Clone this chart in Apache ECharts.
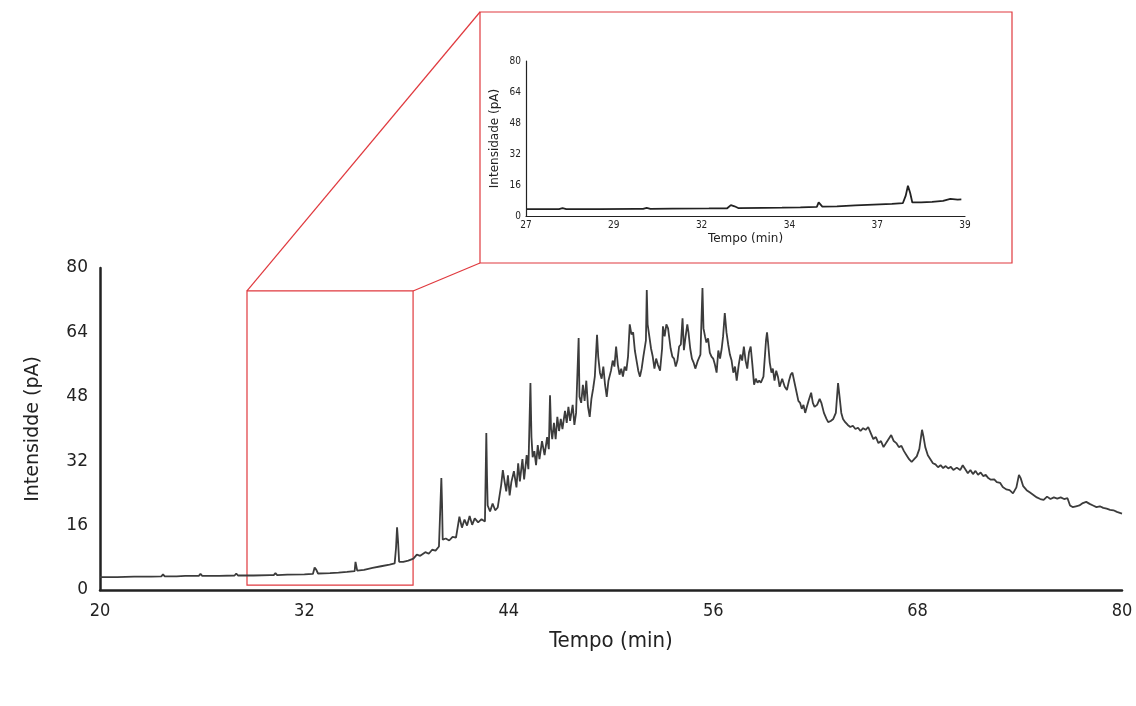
<!DOCTYPE html>
<html>
<head>
<meta charset="utf-8">
<script src="https://cdn.jsdelivr.net/npm/echarts@6/dist/echarts.min.js"></script>
<style>
html,body{margin:0;padding:0;background:#fff;}
#chart{width:1136px;height:706px;}
</style>
</head>
<body>
<div id="chart"></div>
<script>
// ---- Data (time in min, intensity in pA) ----
const segBaseline = [[20,3.2],[21,3.2],[22,3.3],[23,3.3],[23.6,3.4],[23.7,3.9],[23.8,3.4],[24.5,3.4],[25,3.5],[25.8,3.5],[25.9,4.0],[26,3.5],[27,3.5],[27.9,3.6],[28,4.1],[28.1,3.6],[29,3.6],[30,3.7],[30.2,3.7],[30.3,4.2],[30.4,3.7],[31,3.8],[32,3.9],[32.5,4.0],[32.6,5.6],[32.7,5.0],[32.8,4.1],[33.5,4.2],[34,4.3],[34.5,4.5],[34.95,4.7],[35.0,7.0],[35.05,6.6],[35.1,4.8],[35.5,5.0],[36,5.5],[36.5,5.9],[37,6.3],[37.3,6.6],[37.38,10.5],[37.44,15.6],[37.5,12.0],[37.56,7.0],[37.8,7.0],[38.1,7.3],[38.4,7.8],[38.6,8.8],[38.8,8.5]];
const segRise = [[38.9,8.6],[39.1,9.4],[39.3,9.0],[39.5,10.0],[39.7,9.8],[39.9,10.8],[40.0,11.0],[40.04,27.8],[40.08,21.6],[40.12,12.5],[40.3,12.8],[40.5,12.3],[40.7,13.2],[40.9,13.0],[41.1,18.2],[41.25,15.5],[41.4,17.5],[41.55,16.0],[41.7,18.4],[41.85,16.2],[42.0,17.8],[42.2,16.8],[42.4,17.6],[42.6,17.0],[42.68,39.0],[42.72,28.3],[42.76,21.0],[42.9,19.5],[43.05,21.5],[43.2,19.8],[43.35,20.5],[43.55,26.0],[43.65,29.8],[43.75,27.0],[43.85,24.5],[43.95,28.5],[44.05,23.5],[44.15,26.8],[44.3,29.5],[44.45,25.5],[44.55,31.5],[44.65,27.0],[44.8,32.5],[44.9,27.5],[45.05,33.5],[45.15,30.0],[45.27,51.4],[45.33,38.0],[45.4,33.0],[45.5,34.5],[45.6,31.0],[45.7,36.0],[45.8,32.5],[45.95,37.0],[46.1,33.5],[46.25,38.0],[46.35,35.0],[46.42,48.4],[46.48,40.0],[46.55,37.5],[46.65,41.5],[46.75,37.5],[46.85,43.0],[46.95,39.5],[47.05,42.5],[47.15,40.0],[47.3,44.5],[47.4,41.5],[47.5,45.5],[47.6,42.0],[47.75,46.0],[47.85,41.0],[47.95,44.0]];
const segHump = [[48.1,62.6],[48.15,48.0],[48.25,46.5],[48.35,51.0],[48.45,47.0],[48.55,52.0],[48.65,45.5],[48.75,43.0],[48.85,47.5],[48.95,50.0],[49.05,53.0],[49.18,63.4],[49.25,58.0],[49.35,54.0],[49.45,52.5],[49.55,55.5],[49.65,51.0],[49.75,48.0],[49.85,52.0],[50.0,54.5],[50.1,57.0],[50.2,55.5],[50.3,60.5],[50.4,56.0],[50.5,53.5],[50.6,55.0],[50.7,53.0],[50.8,55.5],[50.9,54.5],[51.0,58.0],[51.1,66.0],[51.2,63.5],[51.3,64.0],[51.4,59.5],[51.5,57.0],[51.6,54.5],[51.7,53.0],[51.8,55.0],[51.9,58.0],[52.05,62.0],[52.1,74.5],[52.15,66.0],[52.25,63.0],[52.35,60.0],[52.45,58.0],[52.55,55.0],[52.65,57.5],[52.75,56.0],[52.88,54.5],[53.0,60.0],[53.05,65.5],[53.15,63.0],[53.25,66.0],[53.35,65.0],[53.5,60.0],[53.6,58.0],[53.7,57.5],[53.8,55.5],[53.9,57.0],[54.0,60.5],[54.1,61.0],[54.2,67.5],[54.28,59.6],[54.38,63.0],[54.48,66.0],[54.55,64.0],[54.65,60.0],[54.75,57.5],[54.85,56.5],[54.95,55.0],[55.1,57.0],[55.25,58.5],[55.37,75.0],[55.43,65.0],[55.52,63.0],[55.6,61.5],[55.7,62.5],[55.8,59.0],[55.9,58.0],[56.0,57.5],[56.1,56.0],[56.2,54.0],[56.3,59.5],[56.4,57.5],[56.5,60.0],[56.58,63.0],[56.68,68.8],[56.78,64.0],[56.88,61.0],[56.98,58.5],[57.08,57.0],[57.18,54.0],[57.28,55.5],[57.38,52.0],[57.5,56.0],[57.6,58.5],[57.7,57.0],[57.8,60.5],[57.9,57.0],[58.0,55.0],[58.1,59.0],[58.2,60.5],[58.3,56.0],[58.4,51.0],[58.5,52.5],[58.6,51.5],[58.7,52.0],[58.8,51.5],[58.95,53.0],[59.1,62.0],[59.16,64.0],[59.22,61.5],[59.32,56.5],[59.42,54.0],[59.5,55.0],[59.6,52.0],[59.7,54.5],[59.8,53.0],[59.9,50.5],[60.05,52.5],[60.2,50.5],[60.33,49.7],[60.45,52.0],[60.55,53.5],[60.65,54.0],[60.75,52.0],[60.9,49.0],[61.0,47.0]];
const segTail = [[61.1,46.5],[61.2,45.0],[61.3,46.0],[61.4,44.0],[61.5,45.5],[61.6,47.0],[61.75,49.0],[61.85,46.5],[61.95,45.5],[62.1,46.0],[62.25,47.5],[62.35,46.5],[62.5,44.0],[62.65,42.5],[62.75,41.7],[62.9,42.0],[63.05,42.5],[63.2,44.0],[63.33,51.4],[63.42,48.0],[63.52,44.0],[63.62,42.5],[63.75,41.7],[63.9,41.0],[64.05,40.5],[64.2,40.8],[64.35,40.0],[64.5,40.3],[64.65,39.5],[64.8,40.2],[64.95,39.8],[65.1,40.5],[65.25,39.0],[65.4,37.5],[65.55,38.0],[65.7,36.5],[65.85,37.0],[66.0,35.5],[66.15,36.5],[66.3,37.5],[66.45,38.5],[66.6,37.0],[66.75,36.5],[66.9,35.5],[67.05,35.8],[67.2,34.5],[67.35,33.5],[67.5,32.5],[67.65,31.8],[67.8,32.5],[67.95,33.2],[68.1,35.0],[68.2,38.0],[68.26,39.8],[68.35,38.0],[68.45,35.5],[68.6,33.5],[68.75,32.5],[68.9,31.5],[69.05,31.2],[69.2,30.5],[69.35,31.0],[69.5,30.3],[69.65,30.8],[69.8,30.2],[69.95,30.6],[70.1,29.8],[70.3,30.4],[70.5,29.8],[70.65,31.0],[70.8,30.0],[70.95,29.0],[71.1,29.8],[71.25,28.8],[71.4,29.6],[71.55,28.6],[71.7,29.2],[71.85,28.3],[72.0,28.6],[72.15,27.8],[72.3,27.4],[72.5,27.5],[72.65,26.8],[72.85,26.6],[73.0,25.6],[73.2,25.0],[73.4,24.8],[73.6,24.0],[73.8,25.5],[73.95,28.6],[74.05,27.8],[74.2,25.8],[74.4,24.8],[74.6,24.2],[74.8,23.6],[75.0,23.0],[75.2,22.6],[75.4,22.4],[75.6,23.2],[75.8,22.6],[76.0,23.0],[76.2,22.7],[76.4,23.0],[76.6,22.6],[76.8,22.8],[76.95,21.0],[77.1,20.6],[77.3,20.8],[77.5,21.0],[77.7,21.6],[77.9,21.9],[78.1,21.4],[78.3,21.0],[78.5,20.6],[78.7,20.8],[78.9,20.4],[79.1,20.2],[79.3,19.9],[79.5,19.8],[79.7,19.4],[80,19.0]];

const mainXTicks = [20, 32, 44, 56, 68, 80];
const yTicks = [0, 16, 32, 48, 64, 80];
const insetXTicks = [27, 29.4, 31.8, 34.2, 36.6, 39]; // shown rounded: 27 29 32 34 37 39
const zoomBoxX = [28.63, 38.38];
const zoomBoxY = [1.2, 74.3];
const insetRange = [27, 39];

const signal = segBaseline.concat(segRise, segHump, segTail);
const insetSignal = signal.filter(p => p[0] >= insetRange[0] && p[0] <= insetRange[1]);

const chart = echarts.init(document.getElementById('chart'));
const redC = '#e0393e';
const option = {
  backgroundColor: '#ffffff',
  animation: false,
  grid: [
    {left: 100, right: 14, top: 268, bottom: 116, containLabel: false},
    {left: 526, width: 439, top: 61, height: 155, containLabel: false}
  ],
  xAxis: [
    {
      type: 'value', gridIndex: 0, min: 20, max: 80, interval: 12,
      name: 'Tempo (min)', nameLocation: 'middle', nameGap: 40,
      nameTextStyle: {fontFamily: 'DejaVu Sans Condensed, DejaVu Sans', fontSize: 22, color: '#222'},
      axisLine: {show: true, lineStyle: {color: '#222', width: 2.5}},
      axisTick: {show: false},
      splitLine: {show: false},
      axisLabel: {fontFamily: 'DejaVu Sans Condensed, DejaVu Sans', fontSize: 18, color: '#222', margin: 12,
        customValues: mainXTicks}
    },
    {
      type: 'value', gridIndex: 1, min: insetRange[0], max: insetRange[1],
      name: 'Tempo (min)', nameLocation: 'middle', nameGap: 17,
      nameTextStyle: {fontFamily: 'DejaVu Sans', fontSize: 12, color: '#222'},
      axisLine: {show: true, lineStyle: {color: '#222', width: 1.2}},
      axisTick: {show: false},
      splitLine: {show: false},
      axisLabel: {fontFamily: 'DejaVu Sans Condensed, DejaVu Sans', fontSize: 10, color: '#222', margin: 4,
        customValues: insetXTicks, formatter: v => String(Math.round(v))}
    }
  ],
  yAxis: [
    {
      type: 'value', gridIndex: 0, min: 0, max: 80, interval: 16,
      name: 'Intensidde (pA)', nameLocation: 'middle', nameGap: 57, nameRotate: 90,
      nameTextStyle: {fontFamily: 'DejaVu Sans', fontSize: 19, color: '#222'},
      axisLine: {show: true, lineStyle: {color: '#222', width: 2.5}},
      axisTick: {show: false},
      splitLine: {show: false},
      axisLabel: {fontFamily: 'DejaVu Sans', fontSize: 17, color: '#222', margin: 12,
        customValues: yTicks}
    },
    {
      type: 'value', gridIndex: 1, min: 0, max: 80, interval: 16,
      name: 'Intensidade (pA)', nameLocation: 'middle', nameGap: 25, nameRotate: 90,
      nameTextStyle: {fontFamily: 'DejaVu Sans', fontSize: 12, color: '#222'},
      axisLine: {show: true, lineStyle: {color: '#222', width: 1.2}},
      axisTick: {show: false},
      splitLine: {show: false},
      axisLabel: {fontFamily: 'DejaVu Sans Condensed, DejaVu Sans', fontSize: 10, color: '#222', margin: 5}
    }
  ],
  series: [
    {
      type: 'line', xAxisIndex: 0, yAxisIndex: 0, data: signal,
      showSymbol: false, symbol: 'none',
      lineStyle: {color: '#3c3c3c', width: 1.8},
      markArea: {
        silent: true,
        itemStyle: {color: 'rgba(0,0,0,0)', borderColor: redC, borderWidth: 1.2},
        data: [[{coord: [zoomBoxX[0], zoomBoxY[0]]}, {coord: [zoomBoxX[1], zoomBoxY[1]]}]]
      }
    },
    {
      type: 'line', xAxisIndex: 1, yAxisIndex: 1, data: insetSignal,
      showSymbol: false, symbol: 'none',
      lineStyle: {color: '#222', width: 1.8}
    }
  ]
};
chart.setOption(option);

// connector lines + inset frame
const insetBox = {x: 480, y: 12, w: 532, h: 251};
const pTL = chart.convertToPixel({gridIndex: 0}, [zoomBoxX[0], zoomBoxY[1]]);
const pTR = chart.convertToPixel({gridIndex: 0}, [zoomBoxX[1], zoomBoxY[1]]);
chart.setOption({
  graphic: [
    {type: 'rect', shape: {x: insetBox.x, y: insetBox.y, width: insetBox.w, height: insetBox.h},
      style: {fill: 'none', stroke: redC, lineWidth: 1.2}, silent: true},
    {type: 'line', shape: {x1: pTL[0], y1: pTL[1], x2: insetBox.x, y2: insetBox.y},
      style: {stroke: redC, lineWidth: 1.2}, silent: true},
    {type: 'line', shape: {x1: pTR[0], y1: pTR[1], x2: insetBox.x, y2: insetBox.y + insetBox.h},
      style: {stroke: redC, lineWidth: 1.2}, silent: true}
  ]
});
</script>
</body>
</html>
